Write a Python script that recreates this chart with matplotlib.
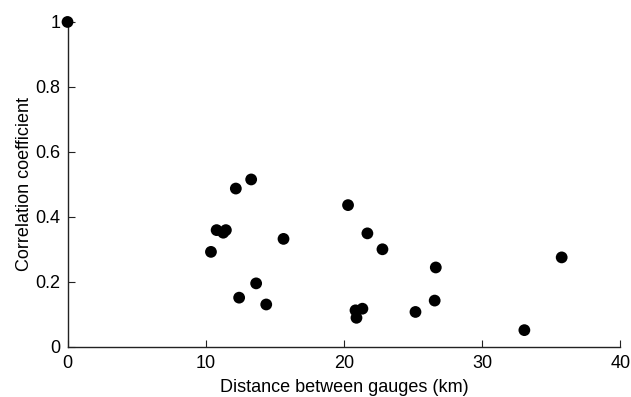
import matplotlib
matplotlib.use("Agg")
import matplotlib.pyplot as plt

plt.rcParams['font.family'] = ['Liberation Sans', 'DejaVu Sans']

distance_km = [0.0, 12.18, 13.29, 20.30, 10.79, 11.46, 11.27, 21.70, 15.63, 22.79,
               10.38, 13.65, 12.42, 14.38, 20.84, 21.34, 20.91, 25.18, 26.65, 26.57,
               33.06, 35.76]
correlation = [1.0, 0.487, 0.515, 0.436, 0.359, 0.359, 0.351, 0.349, 0.332, 0.300,
               0.292, 0.195, 0.151, 0.130, 0.112, 0.117, 0.089, 0.107, 0.244, 0.142,
               0.051, 0.275]

x_ticks = [0, 10, 20, 30, 40]
y_ticks = [0, 0.2, 0.4, 0.6, 0.8, 1]
y_tick_labels = ['0', '0.2', '0.4', '0.6', '0.8', '1']

fig = plt.figure(figsize=(6.31, 3.97), dpi=100)
ax = fig.add_axes([0.107, 0.1267, 0.876, 0.818])
ax.scatter(distance_km, correlation, s=72, color='black', edgecolors='none',
           clip_on=False, zorder=3)
ax.set_xlim(0, 40)
ax.set_ylim(0, 1)
ax.set_xticks(x_ticks)
ax.set_yticks(y_ticks)
ax.set_yticklabels(y_tick_labels)
for s in ['top', 'right']:
    ax.spines[s].set_visible(False)
for s in ['left', 'bottom']:
    ax.spines[s].set_color('#222222')
    ax.spines[s].set_linewidth(1.0)
ax.tick_params(direction='in', length=5, width=0.8, colors='#222222',
               labelcolor='black', labelsize=13)
ax.tick_params(axis='x', pad=6)
ax.tick_params(axis='y', pad=5)
ax.set_xlabel('Distance between gauges (km)', fontsize=13, labelpad=5)
ax.set_ylabel('Correlation coefficient', fontsize=13, labelpad=2)
fig.savefig('out.png', dpi=100)
